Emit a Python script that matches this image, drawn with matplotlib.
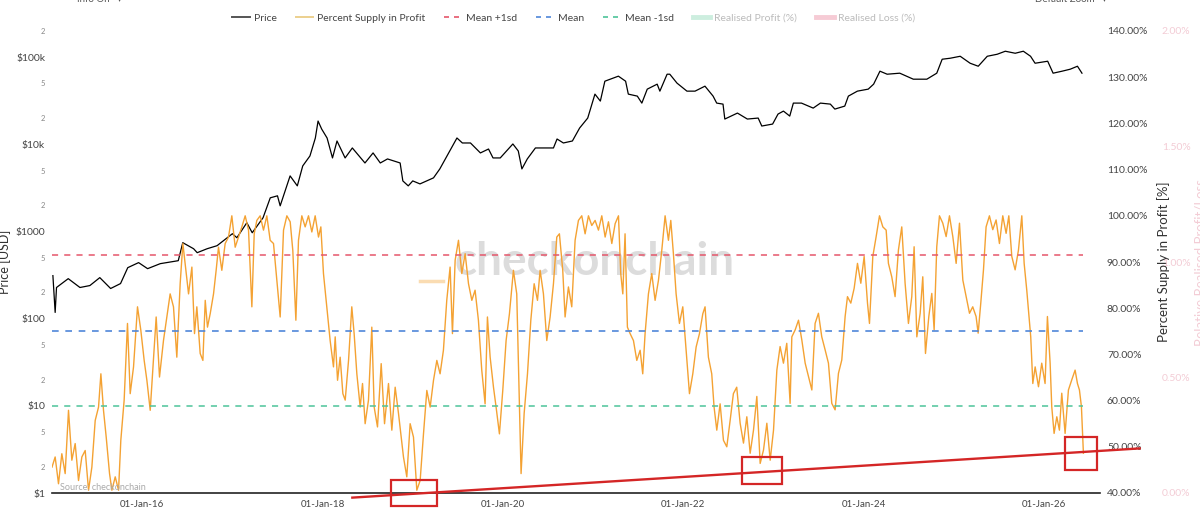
import matplotlib.pyplot as plt
from matplotlib.lines import Line2D
from matplotlib.patches import Rectangle

plt.rcParams['font.family'] = ['Lato', 'DejaVu Sans']

# BTC price (decimal year, USD)
price_t = [2015.01, 2015.035, 2015.05, 2015.18, 2015.31, 2015.42, 2015.53, 2015.65, 2015.76, 2015.84,
           2015.96, 2016.06, 2016.20, 2016.40, 2016.45, 2016.57, 2016.61, 2016.72, 2016.83, 2017.00,
           2017.05, 2017.16, 2017.22, 2017.34, 2017.42, 2017.50, 2017.53, 2017.64, 2017.72, 2017.78,
           2017.86, 2017.92, 2017.95, 2017.99, 2018.05, 2018.11, 2018.16, 2018.25, 2018.33, 2018.47,
           2018.56, 2018.64, 2018.72, 2018.86, 2018.89, 2018.95, 2019.00, 2019.08, 2019.23, 2019.30,
           2019.38, 2019.49, 2019.55, 2019.64, 2019.75, 2019.84, 2019.89, 2019.97, 2020.04, 2020.11,
           2020.17, 2020.21, 2020.27, 2020.36, 2020.45, 2020.56, 2020.60, 2020.67, 2020.77, 2020.85,
           2020.94, 2021.02, 2021.08, 2021.13, 2021.22, 2021.28, 2021.36, 2021.39, 2021.49, 2021.54,
           2021.60, 2021.71, 2021.74, 2021.82, 2021.85, 2021.93, 2022.04, 2022.13, 2022.24, 2022.33,
           2022.37, 2022.44, 2022.46, 2022.60, 2022.71, 2022.83, 2022.87, 2022.99, 2023.05, 2023.11,
           2023.18, 2023.22, 2023.31, 2023.44, 2023.52, 2023.63, 2023.68, 2023.79, 2023.83, 2023.93,
           2024.05, 2024.11, 2024.18, 2024.26, 2024.40, 2024.55, 2024.70, 2024.81, 2024.87, 2024.96,
           2025.07, 2025.18, 2025.27, 2025.37, 2025.48, 2025.57, 2025.68, 2025.77, 2025.85, 2025.90,
           2026.04, 2026.10, 2026.20, 2026.29, 2026.37, 2026.42]
price = [312, 118, 228, 288, 228, 240, 296, 222, 253, 385,
         440, 375, 428, 463, 745, 635, 572, 635, 688, 944,
         849, 1262, 969, 1439, 2437, 2570, 1973, 4350, 3342, 5660,
         7370, 11840, 18530, 15000, 11840, 6990, 10940, 6990, 9100, 6120,
         7980, 6120, 6810, 6120, 3810, 3342, 3810, 3520, 4130, 5230,
         7370, 11840, 10380, 10380, 7980, 8850, 6990, 6990, 8400, 10110,
         8400, 5230, 6810, 9100, 9100, 9100, 11530, 10380, 10940, 15400,
         20050, 37740, 31400, 53100, 57500, 60650, 53100, 37740, 35800, 29770,
         43040, 49100, 40830, 63860, 63860, 50450, 40830, 40830, 46560, 35800,
         29770, 28980, 19530, 22870, 19530, 20050, 16240, 17110, 22280, 24100,
         21130, 29770, 29770, 26080, 29770, 28980, 25410, 27500, 35800, 40830,
         43040, 49100, 69180, 63860, 65610, 55990, 55990, 65610, 94860, 97450,
         102600, 85340, 78860, 102600, 108200, 117200, 111100, 117200, 102600, 85340,
         90000, 65610, 69180, 72900, 78860, 65610]

# Percent supply in profit (decimal year, %)
supply_t = [2015.000, 2015.035, 2015.072, 2015.109, 2015.146, 2015.183, 2015.220, 2015.257, 2015.294, 2015.331,
            2015.368, 2015.405, 2015.442, 2015.479, 2015.516, 2015.542, 2015.571, 2015.601, 2015.638, 2015.664,
            2015.701, 2015.738, 2015.763, 2015.800, 2015.837, 2015.867, 2015.904, 2015.948, 2015.985, 2016.022,
            2016.052, 2016.089, 2016.126, 2016.155, 2016.192, 2016.236, 2016.273, 2016.310, 2016.347, 2016.384,
            2016.421, 2016.451, 2016.488, 2016.514, 2016.551, 2016.580, 2016.606, 2016.643, 2016.673, 2016.699,
            2016.724, 2016.754, 2016.791, 2016.820, 2016.846, 2016.883, 2016.920, 2016.957, 2016.994, 2017.031,
            2017.068, 2017.105, 2017.142, 2017.179, 2017.216, 2017.242, 2017.271, 2017.308, 2017.345, 2017.382,
            2017.419, 2017.456, 2017.493, 2017.530, 2017.567, 2017.604, 2017.641, 2017.670, 2017.704, 2017.733,
            2017.770, 2017.807, 2017.844, 2017.881, 2017.918, 2017.955, 2017.981, 2018.010, 2018.047, 2018.084,
            2018.121, 2018.140, 2018.166, 2018.195, 2018.225, 2018.251, 2018.288, 2018.324, 2018.350, 2018.380,
            2018.417, 2018.443, 2018.472, 2018.509, 2018.546, 2018.572, 2018.609, 2018.650, 2018.687, 2018.731,
            2018.768, 2018.805, 2018.842, 2018.897, 2018.934, 2018.971, 2019.008, 2019.045, 2019.082, 2019.119,
            2019.156, 2019.193, 2019.230, 2019.267, 2019.303, 2019.340, 2019.377, 2019.414, 2019.440, 2019.470,
            2019.507, 2019.544, 2019.581, 2019.618, 2019.655, 2019.691, 2019.728, 2019.765, 2019.802, 2019.828,
            2019.858, 2019.895, 2019.924, 2019.961, 2019.998, 2020.035, 2020.072, 2020.116, 2020.153, 2020.183,
            2020.201, 2020.235, 2020.272, 2020.309, 2020.346, 2020.383, 2020.412, 2020.449, 2020.486, 2020.523,
            2020.560, 2020.597, 2020.626, 2020.663, 2020.689, 2020.726, 2020.763, 2020.800, 2020.837, 2020.874,
            2020.911, 2020.948, 2020.985, 2021.022, 2021.059, 2021.096, 2021.133, 2021.170, 2021.207, 2021.244,
            2021.281, 2021.306, 2021.329, 2021.354, 2021.380, 2021.410, 2021.447, 2021.484, 2021.521, 2021.550,
            2021.576, 2021.613, 2021.650, 2021.687, 2021.724, 2021.761, 2021.798, 2021.835, 2021.861, 2021.890,
            2021.920, 2021.957, 2021.994, 2022.031, 2022.068, 2022.105, 2022.142, 2022.179, 2022.216, 2022.241,
            2022.278, 2022.315, 2022.341, 2022.371, 2022.408, 2022.445, 2022.482, 2022.519, 2022.555, 2022.592,
            2022.630, 2022.667, 2022.704, 2022.741, 2022.778, 2022.815, 2022.852, 2022.889, 2022.926, 2022.963,
            2023.000, 2023.037, 2023.073, 2023.110, 2023.147, 2023.184, 2023.203, 2023.240, 2023.277, 2023.314,
            2023.351, 2023.388, 2023.425, 2023.461, 2023.498, 2023.535, 2023.572, 2023.609, 2023.646, 2023.683,
            2023.720, 2023.757, 2023.794, 2023.820, 2023.857, 2023.894, 2023.931, 2023.968, 2024.005, 2024.042,
            2024.064, 2024.101, 2024.138, 2024.175, 2024.212, 2024.249, 2024.274, 2024.311, 2024.348, 2024.385,
            2024.422, 2024.459, 2024.496, 2024.533, 2024.559, 2024.589, 2024.626, 2024.655, 2024.685, 2024.722,
            2024.755, 2024.781, 2024.810, 2024.840, 2024.877, 2024.914, 2024.951, 2024.988, 2025.025, 2025.062,
            2025.099, 2025.136, 2025.173, 2025.209, 2025.246, 2025.269, 2025.298, 2025.328, 2025.357, 2025.394,
            2025.431, 2025.468, 2025.505, 2025.542, 2025.579, 2025.609, 2025.642, 2025.679, 2025.716, 2025.753,
            2025.779, 2025.808, 2025.830, 2025.852, 2025.875, 2025.901, 2025.938, 2025.974, 2026.011, 2026.037,
            2026.067, 2026.085, 2026.111, 2026.141, 2026.170, 2026.196, 2026.233, 2026.270, 2026.307, 2026.344,
            2026.370, 2026.392, 2026.414, 2026.436]
supply = [45.6, 47.8, 42.0, 48.5, 44.2, 57.9, 47.1, 50.7, 42.7, 47.8,
          49.2, 40.6, 45.6, 55.7, 58.6, 65.8, 57.9, 52.1, 44.2, 40.6,
          43.5, 40.6, 51.4, 60.1, 76.7, 61.5, 67.3, 80.3, 75.2, 68.7,
          64.4, 57.9, 69.4, 78.1, 65.1, 73.0, 78.1, 83.1, 80.3, 69.4,
          85.3, 94.0, 87.5, 83.1, 88.9, 74.5, 80.3, 70.2, 68.7, 81.7,
          75.9, 78.8, 83.1, 88.2, 93.2, 88.2, 94.0, 95.4, 100.0, 93.2,
          95.4, 97.6, 100.0, 96.9, 80.3, 96.1, 99.0, 100.0, 96.9, 100.0,
          94.7, 94.0, 86.0, 78.1, 96.9, 100.0, 98.7, 92.5, 77.4, 94.7,
          100.0, 97.6, 100.0, 96.5, 100.0, 95.4, 97.6, 87.5, 80.3, 73.0,
          67.3, 73.8, 64.4, 69.4, 61.5, 60.1, 68.7, 80.3, 74.5, 65.8,
          58.6, 63.7, 55.0, 60.1, 75.9, 58.6, 54.3, 68.0, 55.0, 63.7,
          53.6, 62.9, 57.2, 47.8, 43.5, 55.0, 52.1, 40.6, 42.7, 52.8,
          62.2, 58.6, 64.4, 68.7, 65.8, 70.9, 81.7, 88.9, 74.5, 90.4,
          94.7, 87.5, 91.8, 85.3, 81.7, 83.9, 77.4, 66.6, 59.3, 78.1,
          69.4, 62.9, 58.6, 52.8, 62.2, 73.0, 78.8, 88.2, 83.1, 58.6,
          44.2, 57.2, 65.8, 77.4, 85.3, 81.7, 88.2, 83.1, 73.0, 78.1,
          85.3, 95.4, 96.1, 88.2, 78.1, 84.6, 80.3, 94.7, 99.0, 100.0,
          96.1, 100.0, 97.9, 99.0, 96.9, 100.0, 95.4, 98.7, 94.0, 98.3,
          100.0, 87.5, 83.1, 96.1, 75.9, 74.5, 73.0, 68.7, 70.9, 65.8,
          74.5, 83.1, 87.5, 81.7, 86.0, 92.5, 100.0, 94.7, 99.0, 91.8,
          83.1, 76.7, 80.3, 70.9, 61.5, 65.8, 71.6, 74.5, 78.8, 80.3,
          69.4, 65.8, 58.6, 53.6, 59.3, 51.4, 50.0, 55.7, 61.5, 62.9,
          55.1, 50.8, 56.5, 48.6, 53.6, 60.9, 46.4, 49.3, 55.1, 47.1,
          53.6, 66.6, 71.7, 68.1, 72.4, 59.4, 73.8, 75.3, 77.4, 73.1,
          68.1, 65.2, 62.3, 76.7, 78.9, 73.8, 71.0, 68.1, 59.4, 58.0,
          65.9, 68.8, 78.2, 82.5, 81.1, 84.3, 89.7, 85.4, 91.2, 81.1,
          76.7, 91.2, 95.5, 100.0, 97.6, 96.9, 89.7, 86.8, 82.5, 92.6,
          97.6, 85.4, 76.7, 82.5, 93.3, 73.8, 78.9, 86.8, 70.2, 78.2,
          83.2, 75.3, 93.3, 100.0, 98.4, 95.5, 100.0, 95.5, 89.7, 98.4,
          86.1, 82.5, 78.9, 80.3, 78.2, 74.6, 81.1, 88.3, 97.6, 100.0,
          97.0, 99.1, 94.0, 100.0, 96.2, 100.0, 91.2, 88.3, 92.6, 100.0,
          89.7, 83.9, 78.9, 73.8, 63.7, 67.3, 63.0, 68.1, 63.7, 78.2,
          68.1, 58.7, 52.9, 56.5, 53.6, 61.6, 52.9, 62.3, 64.5, 66.6,
          63.7, 62.3, 58.7, 48.6]

supply_mean = 75.1
supply_sd = 16.35

# hand-drawn support line and highlighted lows (decimal year, %)
trend_t = [2018.33, 2027.06]
trend_v = [39.0, 49.65]
box_t0 = [2018.757, 2022.649, 2026.233]
box_t1 = [2019.274, 2023.092, 2026.591]
box_v0 = [37.2, 41.95, 44.98]
box_v1 = [42.75, 47.73, 52.06]

year_ticks = [2016, 2018, 2020, 2022, 2024, 2026]
price_ticks = [1, 10, 100, 1000, 10000, 100000]
price_labels = ['\\$1', '\\$10', '\\$100', '\\$1000', '\\$10k', '\\$100k']
price_minor = [2, 5, 20, 50, 200, 500, 2000, 5000, 20000, 50000, 200000]
pct_ticks = [40, 50, 60, 70, 80, 90, 100, 110, 120, 130, 140]
rel_ticks = [0, 0.5, 1.0, 1.5, 2.0]

fig = plt.figure(figsize=(12, 5.3), dpi=100)
ax = fig.add_axes([52 / 1200, 37 / 530, 1048 / 1200, 462 / 530])
ax2 = ax.twinx()
ax3 = ax.twinx()
ax3.spines['right'].set_position(('outward', 39.6))

# watermark
ax.text(0.518, 0.5, 'checkonchain', transform=ax.transAxes, ha='center', va='center',
        fontsize=33, fontweight='bold', color='#dcdcdc', zorder=0)
fig.add_artist(Line2D([420 / 1200, 443 / 1200], [1 - 281 / 530] * 2, color='#fadcb2', lw=2.5))

ax.plot(price_t, price, color='black', lw=0.9, zorder=3)
ax.set_yscale('log')
ax.set_ylim(1, 2e5)
ax.set_xlim(2015.0, 2026.62)
ax.set_xticks(year_ticks)
ax.set_xticklabels(['01-Jan-%02d' % (y % 100) for y in year_ticks])
ax.set_yticks(price_ticks)
ax.set_yticklabels(price_labels)
ax.set_yticks(price_minor, minor=True)
ax.set_yticklabels([str(v)[0] for v in price_minor], minor=True)
ax.tick_params(axis='y', which='major', length=0, pad=5, labelsize=7.5, labelcolor='#444')
ax.tick_params(axis='y', which='minor', length=0, pad=5, labelsize=5.5, labelcolor='#888')
ax.tick_params(axis='x', length=0, pad=5, labelsize=7, labelcolor='#444')
ax.set_ylabel('Price [USD]', fontsize=9, color='#333')
ax.yaxis.set_label_coords(-0.0395, 0.5)

ax2.plot(supply_t, supply, color='#f4a233', lw=1.0, zorder=2)
xs = [supply_t[0], supply_t[-1]]
ax2.plot(xs, [supply_mean + supply_sd] * 2, color='#e5566b', lw=1.1, ls=(0, (4, 4)))
ax2.plot(xs, [supply_mean] * 2, color='#4f86d9', lw=1.2, ls=(0, (4, 4)))
ax2.plot(xs, [supply_mean - supply_sd] * 2, color='#4dc49a', lw=1.1, ls=(0, (4, 4)))
ax2.set_ylim(40, 140)
ax2.set_yticks(pct_ticks)
ax2.set_yticklabels(['%.2f%%' % v for v in pct_ticks])
ax2.tick_params(axis='y', length=0, pad=5, labelsize=7.5, labelcolor='#444')
ax2.set_ylabel('Percent Supply in Profit [%]', fontsize=9.5, color='#333')
ax2.yaxis.set_label_coords(1.0544, 0.5)

# annotations
ax2.plot(trend_t, trend_v, color='#d42626', lw=1.7, clip_on=False, zorder=5)
for t0, t1, v0, v1 in zip(box_t0, box_t1, box_v0, box_v1):
    ax2.add_patch(Rectangle((t0, v0), t1 - t0, v1 - v0, fill=False, ec='#d42626',
                            lw=1.6, clip_on=False, zorder=5))

ax3.set_ylim(0, 2)
ax3.set_yticks(rel_ticks)
ax3.set_yticklabels(['%.2f%%' % v for v in rel_ticks])
ax3.tick_params(axis='y', length=0, pad=5, labelsize=7.5, labelcolor='#f3ccd5')
ax3.set_ylabel('Relative Realised Profit/Loss', fontsize=9.5, color='#f3ccd5')
ax3.yaxis.set_label_coords(1.0906, 0.5)

for a in (ax, ax2, ax3):
    for s in a.spines.values():
        s.set_visible(False)
ax.spines['bottom'].set_visible(True)
ax.spines['bottom'].set_color('#222')
ax.spines['bottom'].set_linewidth(1.2)

fig.text(60 / 1200, 1 - 487 / 530, 'Source: checkonchain', fontsize=6.5, color='#aaa', va='center')
fig.text(77 / 1200, 1.0, 'Info On   ▾', fontsize=7, color='#555', va='center')
fig.text(1035 / 1200, 1.0, 'Default Zoom   ▾', fontsize=7, color='#555', va='center')

handles = [
    Line2D([], [], color='#555', lw=1.4, label='Price'),
    Line2D([], [], color='#ecd08e', lw=1.4, label='Percent Supply in Profit'),
    Line2D([], [], color='#e5566b', lw=1.2, ls=(0, (3, 3)), label='Mean +1sd'),
    Line2D([], [], color='#4f86d9', lw=1.2, ls=(0, (3, 3)), label='Mean'),
    Line2D([], [], color='#4dc49a', lw=1.2, ls=(0, (3, 3)), label='Mean -1sd'),
    Line2D([], [], color='#cdeedf', lw=3.5, label='Realised Profit (%)'),
    Line2D([], [], color='#f6cbd5', lw=3.5, label='Realised Loss (%)'),
]
leg = fig.legend(handles=handles, loc='center', bbox_to_anchor=(0.478, 0.966), ncol=7,
                 frameon=False, fontsize=7.5, handlelength=1.7, handletextpad=0.4,
                 columnspacing=1.8)
for i, txt in enumerate(leg.get_texts()):
    txt.set_color('#444' if i < 5 else '#bbb')

fig.savefig('out.png', dpi=100)
